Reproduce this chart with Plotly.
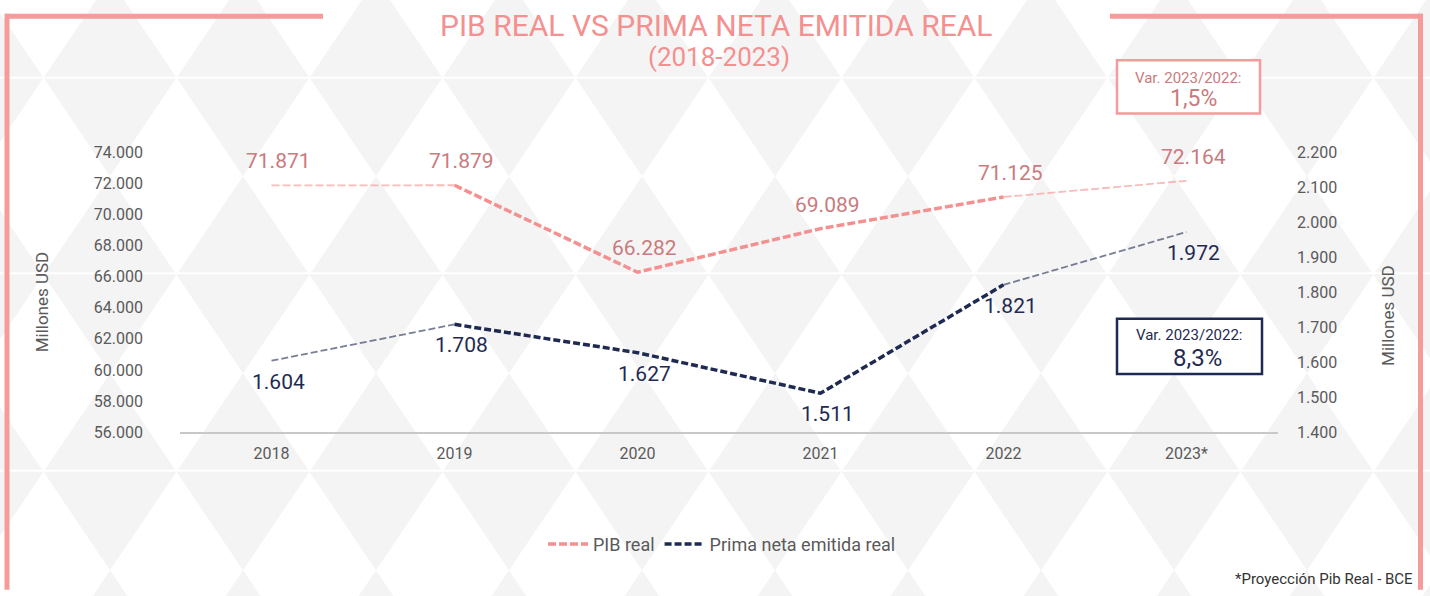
import plotly.graph_objects as go

# datos
years = ['2018', '2019', '2020', '2021', '2022', '2023*']
pib_real = [71871, 71879, 66282, 69089, 71125, 72164]
prima_neta = [1604, 1708, 1627, 1511, 1821, 1972]
pib_ticks = [56000, 58000, 60000, 62000, 64000, 66000, 68000, 70000, 72000, 74000]
prima_ticks = [1400, 1500, 1600, 1700, 1800, 1900, 2000, 2100, 2200]
var_pib = '1,5%'
var_prima = '8,3%'
var_label = 'Var. 2023/2022:'

W, H = 1430, 596
PINK = '#F4908F'
PINK_FRAME = '#F59B9B'
PINK_TEXT = '#C97B7E'
NAVY = '#1F2A52'
GREY_TXT = '#5A5A5A'
FONT = 'Roboto'


def px(x):
    return x / W


def py(y):
    return 1 - y / H


def fmt(v):
    return f'{v:,}'.replace(',', '.')


def note(x, y, text, size, color, **kw):
    fig.add_annotation(x=px(x), y=py(y), xref='paper', yref='paper', showarrow=False,
                       xanchor=kw.pop('xanchor', 'center'), yanchor='middle', text=text,
                       font=dict(size=size, color=color, family=FONT), **kw)


fig = go.Figure()

# fondo de rombos
DW, DH = 133, 203.5
parts = []
for j in range(-1, 4):
    cy = 71 + j * DH
    for i in range(-1, 12):
        cx = 110 + i * DW
        parts.append(
            f'M{px(cx - DW / 2):.5f},{py(cy):.5f} L{px(cx):.5f},{py(cy - DH / 2):.5f} '
            f'L{px(cx + DW / 2):.5f},{py(cy):.5f} L{px(cx):.5f},{py(cy + DH / 2):.5f} Z'
        )
fig.add_shape(type='path', path=' '.join(parts), xref='paper', yref='paper',
              fillcolor='#F4F4F4', line=dict(width=0), layer='below')
for sy in [71, 273, 477]:
    fig.add_shape(type='line', xref='paper', yref='paper', x0=0, x1=1, y0=py(sy), y1=py(sy),
                  line=dict(color='white', width=2), layer='below')

# marco rosa
frame = dict(color=PINK_FRAME, width=5)
fig.add_shape(type='line', xref='paper', yref='paper', x0=px(7), x1=px(7), y0=py(5), y1=py(600), line=frame)
fig.add_shape(type='line', xref='paper', yref='paper', x0=px(5), x1=px(323), y0=py(7.5), y1=py(7.5), line=frame)
fig.add_shape(type='line', xref='paper', yref='paper', x0=px(1110), x1=px(1423), y0=py(7.5), y1=py(7.5), line=frame)
fig.add_shape(type='line', xref='paper', yref='paper', x0=px(1420.5), x1=px(1420.5), y0=py(5), y1=py(600), line=frame)


def add_series(y, color, name, axis, dash):
    fig.add_trace(go.Scatter(x=years[1:5], y=y[1:5], mode='lines', name=name, yaxis=axis,
                             line=dict(color=color, width=3.5, dash=dash), hoverinfo='skip'))
    for a, b in [(0, 2), (4, 6)]:
        fig.add_trace(go.Scatter(x=years[a:b], y=y[a:b], mode='lines', yaxis=axis, showlegend=False,
                                 opacity=0.6, line=dict(color=color, width=1.8, dash=dash), hoverinfo='skip'))


add_series(pib_real, PINK, 'PIB real', 'y', '8px,3px')
add_series(prima_neta, NAVY, 'Prima neta emitida real', 'y2', '7px,3px')

# etiquetas de datos (indice de categoria)
for i, v in enumerate(pib_real):
    fig.add_annotation(x=i, y=v, xref='x', yref='y', text=fmt(v), showarrow=False,
                       xanchor='center', yanchor='middle', xshift=7, yshift=24,
                       font=dict(size=21, color=PINK_TEXT, family=FONT))
for i, v in enumerate(prima_neta):
    fig.add_annotation(x=i, y=v, xref='x', yref='y2', text=fmt(v), showarrow=False,
                       xanchor='center', yanchor='middle', xshift=7, yshift=-21,
                       font=dict(size=21, color=NAVY, family=FONT))

# titulo
note(716, 17, 'PIB REAL VS PRIMA NETA EMITIDA REAL', 30, PINK, borderpad=0)
note(719, 50, '(2018-2023)', 26, PINK, borderpad=0)

# cajas de variacion
fig.add_shape(type='rect', xref='paper', yref='paper', x0=px(1117), x1=px(1260), y0=py(53), y1=py(108),
              fillcolor='white', line=dict(color=PINK_FRAME, width=2.5))
note(1188, 71, var_label, 15, PINK_TEXT)
note(1193, 92, var_pib, 23, PINK_TEXT)
fig.add_shape(type='rect', xref='paper', yref='paper', x0=px(1117), x1=px(1262), y0=py(320), y1=py(377),
              fillcolor='white', line=dict(color=NAVY, width=2.5))
note(1189, 337, var_label, 15, NAVY)
note(1197, 360, var_prima, 24, NAVY)

# titulos de ejes
note(42, 303, 'Millones USD', 17, GREY_TXT, textangle=-90)
note(1388, 317, 'Millones USD', 17, GREY_TXT, textangle=-90)

# nota
note(1415, 589, '*Proyección Pib Real - BCE', 15, '#333333', xanchor='right')

fig.update_layout(
    width=W, height=H,
    margin=dict(l=0, r=0, t=0, b=0),
    paper_bgcolor='white', plot_bgcolor='rgba(0,0,0,0)',
    separators=',.',
    font=dict(family=FONT, color=GREY_TXT),
    showlegend=True,
    legend=dict(orientation='h', x=px(722), xanchor='center', y=py(553), yanchor='middle',
                itemwidth=40, bgcolor='rgba(0,0,0,0)', font=dict(size=18, color=GREY_TXT)),
    xaxis=dict(domain=[px(180), px(1278)], type='category', categoryorder='array', categoryarray=years,
               range=[-0.5, 5.5], showline=True, linecolor='#C8C8C8', linewidth=2, showgrid=False,
               zeroline=False, ticks='', ticklabelstandoff=6, tickfont=dict(size=16, color=GREY_TXT)),
    yaxis=dict(domain=[py(437), py(148)], range=[56000, 74000], tickvals=pib_ticks, tickformat=',.0f',
               showgrid=False, zeroline=False, showline=False, ticks='', ticklabelstandoff=36,
               tickfont=dict(size=16, color=GREY_TXT)),
    yaxis2=dict(overlaying='y', side='right', anchor='x', range=[1400, 2200], tickvals=prima_ticks,
                tickformat=',.0f', showgrid=False, zeroline=False, showline=False, ticks='',
                ticklabelstandoff=18, tickfont=dict(size=16, color=GREY_TXT)),
)

page_fix = (
    "document.documentElement.style.margin='0';document.documentElement.style.overflow='hidden';"
    "document.body.style.margin='0';document.body.style.overflow='hidden';"
    "var gd=document.getElementById('{plot_id}');"
    "gd.style.position='fixed';gd.style.top='0px';gd.style.left='0px';"
)
fig.write_html('out.html', config={'displayModeBar': False}, post_script=page_fix)
